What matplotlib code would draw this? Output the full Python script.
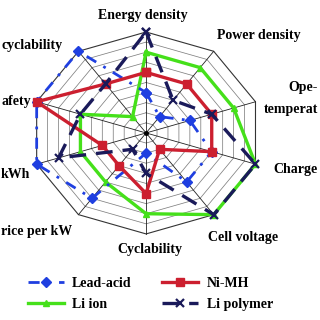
import numpy as np
import matplotlib
matplotlib.use("Agg")
import matplotlib.pyplot as plt

# axes, clockwise from the top (labels as far as they show in the picture)
categories = ["Energy density", "Power density", "Ope-\ntemperat", "Charge",
              "Cell voltage", "Cyclability", "rice per kW", "kWh", "afety",
              "cyclability"]

lead_acid = [4, 2, 4, 6, 6, 2, 8, 10, 10, 10]
ni_mh = [6, 6, 6, 6, 2, 6, 4, 4, 10, 6]
li_ion = [8, 8, 8, 10, 10, 8, 6, 6, 6, 2]
li_polymer = [10, 4, 6, 10, 10, 4, 2, 8, 6, 6]

levels = list(range(1, 11))

plt.rcParams['font.family'] = ['Liberation Serif', 'DejaVu Serif']
plt.rcParams['font.weight'] = 'bold'

fig = plt.figure(figsize=(3.2, 3.2), dpi=100)
ax = fig.add_axes([0.097, 0.269, 0.719, 0.631], projection='polar')
ax.set_aspect('auto')
ax.set_position([0.097, 0.269, 0.719, 0.631])
ax.set_theta_zero_location('N')
ax.set_theta_direction(-1)
ax.set_ylim(0, 10)
ax.grid(False)
ax.set_xticks([])
ax.set_yticks([])
ax.spines['polar'].set_visible(False)
ax.patch.set_alpha(0)

n = len(categories)
angles = np.linspace(0, 2 * np.pi, n, endpoint=False)
closed = np.append(angles, angles[0])

# polygon web
for lv in levels:
    ax.plot(closed, [lv] * (n + 1), color='#333333' if lv == 10 else '#808080',
            lw=0.8 if lv == 10 else 0.55, zorder=1, clip_on=False)
for a in angles:
    ax.plot([a, a], [0, 10], color='#222222', lw=0.6, zorder=1, clip_on=False)
ax.plot([0], [0], 'o', color='black', ms=2.5, zorder=1)


def close(vals):
    return list(vals) + [vals[0]]


ax.plot(closed, close(li_ion), color='#45e01a', lw=2.4, marker='^', ms=5,
        label='Li ion', zorder=2, clip_on=False)
ax.plot(closed, close(lead_acid), color='#1f3fe0', lw=2.0, ls=(0, (4, 3, 1, 3)),
        marker='D', ms=5, label='Lead-acid', zorder=3, clip_on=False)
ax.plot(closed, close(ni_mh), color='#cc1f2f', lw=2.4, marker='s', ms=6,
        label='Ni-MH', zorder=4, clip_on=False)
ax.plot(closed, close(li_polymer), color='#1a1a5a', lw=2.4, ls=(0, (5, 3)),
        marker='x', ms=6, mew=1.6, label='Li polymer', zorder=5, clip_on=False)

# category labels
fs = 10
def lab(x, y, s, ha='center', ma='center'):
    fig.text(x / 320, 1 - y / 320, s, ha=ha, va='center', fontsize=fs,
             fontweight='bold', multialignment=ma, linespacing=1.9)

lab(143, 15, categories[0])
lab(259, 36, categories[1])
lab(318, 98, categories[2], ha='right', ma='right')
lab(318, 170, categories[3], ha='right')
lab(243, 237, categories[4])
lab(150, 250, categories[5])
lab(1, 232, categories[6], ha='left')
lab(1, 174, categories[7], ha='left')
lab(1, 101, categories[8], ha='left')
lab(1, 45, categories[9], ha='left')

h, l = ax.get_legend_handles_labels()
order = [1, 0, 2, 3]
fig.legend([h[i] for i in order], [l[i] for i in order], ncol=2, frameon=False,
           loc='lower center', bbox_to_anchor=(0.47, -0.01), prop={'size': fs, 'weight': 'bold'},
           handlelength=2.6, columnspacing=2.2, handletextpad=0.6, labelspacing=0.55)

fig.savefig("out.png", dpi=100)
